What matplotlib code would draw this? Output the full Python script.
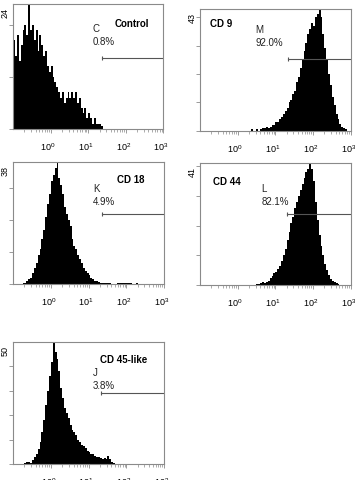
import numpy as np
import matplotlib.pyplot as plt
import matplotlib.transforms as mtransforms
from matplotlib.ticker import FixedLocator, NullFormatter

plt.rcParams['font.family'] = ['Liberation Sans', 'DejaVu Sans']
plt.rcParams['mathtext.fontset'] = 'custom'
plt.rcParams['mathtext.rm'] = 'Liberation Sans'

# channel width in decades (log10 of fluorescence)
step = 0.05

# histogram counts, one value per channel, first channel at *_start (log10)
control_start = -1.0
control = [17, 14, 18, 13, 16, 19, 20, 18, 24, 19, 20, 17, 19, 15, 18, 16,
           14, 15, 12, 11, 12, 10, 9, 8, 7, 6, 7, 5, 6, 7, 6, 7,
           6, 7, 5, 6, 4, 3, 4, 2, 3, 2, 1, 2, 1, 1, 1, 0.5]

cd9_start = 0.3
cd9 = [0, 0.5, 0, 0, 0.7, 0, 0.8, 1, 1, 1.5, 1, 1.5, 2, 2, 3, 3,
       4, 5, 6, 7, 8, 10, 11, 13, 14, 17, 19, 22, 25, 28, 31, 34,
       36, 38, 37, 40, 41, 43, 40, 34, 29, 25, 20, 16, 12, 9, 6, 4,
       2.5, 1.5, 1, 0.5]

cd18_start = -0.75
cd18 = [0.5, 0.5, 1, 1.5, 2, 3.5, 5, 6.5, 9, 11, 14, 17, 21, 25, 28, 32,
        34, 36, 38, 33, 31, 28, 24, 22, 20, 18, 14, 12, 11, 9, 8, 6.5,
        5, 4, 3.5, 3, 2, 1.5, 1, 1, 0.7, 0.5, 0.5, 0.3, 0.5, 0.3, 0.3, 0,
        0, 0, 0.5, 0.5, 0.3, 0.5, 0.5, 0.4, 0.5, 0.3, 0.2, 0, 0.3]

cd44_start = 0.5
cd44 = [0.5, 0.5, 0.8, 1, 0.7, 1.2, 1.5, 2.5, 3, 4, 4.5, 5.5, 6.5, 8, 10, 12,
        15, 18, 21, 23, 26, 28, 30, 32, 34, 36, 38, 39, 41, 39, 35, 28,
        22, 17, 13, 10, 7, 5, 3.5, 2, 1.5, 1, 0.7, 0.5]

cd45_start = -0.7
cd45 = [0.5, 1, 1, 0.5, 1.5, 3, 4, 6, 9, 13, 18, 24, 30, 36, 42, 50,
        46, 43, 38, 31, 27, 23, 21, 19, 16, 14, 13, 12, 10, 9, 8, 7.5,
        6.5, 5.5, 5, 4, 4, 3.5, 3, 3, 2.5, 2, 2.5, 2, 3.5, 2, 1, 0.5]

titles = ['Control', 'CD 9', 'CD 18', 'CD 44', 'CD 45-like']
starts = [control_start, cd9_start, cd18_start, cd44_start, cd45_start]
counts = [control, cd9, cd18, cd44, cd45]
ymax = [24, 43, 38, 41, 50]
gate_letter = ['C', 'M', 'K', 'L', 'J']
gate_pct = ['0.8%', '92.0%', '4.9%', '82.1%', '3.8%']
gate_lo = [1.36, 1.33, 1.35, 1.30, 1.34]   # log10 of gate start
gate_y = [13.6, 25.4, 22.0, 24.0, 29.0]

# layout (figure fractions) and text placement (axes fractions)
rects = [[0.037, 0.730, 0.423, 0.260],
         [0.563, 0.726, 0.425, 0.254],
         [0.037, 0.407, 0.425, 0.254],
         [0.563, 0.405, 0.425, 0.254],
         [0.037, 0.033, 0.425, 0.254]]
title_pos = [(0.79, 0.85, 'center'), (0.07, 0.88, 'left'), (0.78, 0.86, 'center'),
             (0.09, 0.85, 'left'), (0.73, 0.86, 'center')]
label_pos = [(0.53, 0.78), (0.37, 0.81), (0.53, 0.76), (0.41, 0.77), (0.53, 0.73)]

grey = '#8a8a8a'
fig = plt.figure(figsize=(3.55, 4.81), dpi=100)
shift = mtransforms.ScaledTranslation(-2.5 / 100, 0, fig.dpi_scale_trans)

for i in range(5):
    ax = fig.add_axes(rects[i])
    c = np.array(counts[i], dtype=float)
    edges = 10 ** (starts[i] + step * np.arange(len(c) + 1))
    ax.stairs(c, edges, fill=True, color='black', lw=0)

    ax.set_xscale('log')
    ax.set_xlim(0.1, 1000)
    ax.set_ylim(0, ymax[i])

    # gate marker
    ax.plot([10 ** gate_lo[i], 1000], [gate_y[i], gate_y[i]], color='#555555', lw=0.8)
    ax.plot([10 ** gate_lo[i]], [gate_y[i]], marker='|', ms=3, mew=0.8, color='#555555')

    lx, ly = label_pos[i]
    ax.text(lx, ly, gate_letter[i], transform=ax.transAxes, fontsize=7, color='#222222')
    ax.text(lx, ly - 0.105, gate_pct[i], transform=ax.transAxes, fontsize=7, color='#222222')

    tx, ty, ha = title_pos[i]
    ax.text(tx, ty, titles[i], transform=ax.transAxes, fontsize=7, fontweight='bold',
            ha=ha, va='center')

    # y axis: ticks every 10, only the top count written
    ax.yaxis.set_major_locator(FixedLocator(np.arange(0, ymax[i], 10)))
    ax.tick_params(axis='y', which='both', direction='out', length=3, width=0.6,
                   color=grey, labelleft=False)
    ax.text(-0.022, 0.975, str(ymax[i]), transform=ax.transAxes, rotation=90,
            ha='right', va='top', fontsize=6.5)

    # x axis: decades labelled 10^0..10^3, minor ticks between
    ax.xaxis.set_major_locator(FixedLocator([1, 10, 100, 1000]))
    ax.set_xticklabels([r'$\mathregular{10^{%d}}$' % k for k in range(4)])
    minors = [m * 10.0 ** d for d in range(-1, 3) for m in range(2, 10)]
    ax.xaxis.set_minor_locator(FixedLocator(minors))
    ax.xaxis.set_minor_formatter(NullFormatter())
    ax.tick_params(axis='x', which='major', direction='out', length=3, width=0.6,
                   color=grey, labelsize=6.5, pad=5)
    ax.tick_params(axis='x', which='minor', direction='out', length=2, width=0.5,
                   color=grey)
    for lab in ax.get_xticklabels():
        lab.set_transform(lab.get_transform() + shift)

    for s in ax.spines.values():
        s.set_color(grey)
        s.set_linewidth(0.8)

fig.savefig('out.png', dpi=100)
